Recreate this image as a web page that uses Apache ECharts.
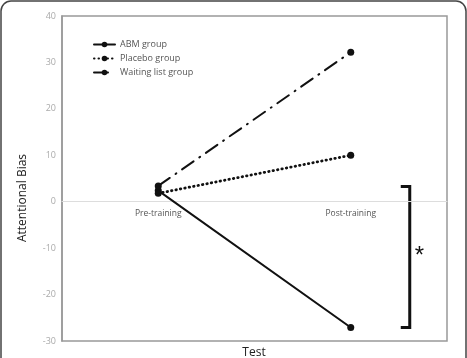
<!DOCTYPE html>
<html><head><meta charset="utf-8">
<script src="https://cdn.jsdelivr.net/npm/echarts@6/dist/echarts.min.js"></script>
<style>html,body{margin:0;padding:0;background:#fff}#c{width:467px;height:358px}</style>
</head><body><div id="c"></div>
<script>
const categories = ['Pre-training', 'Post-training'];
const abmGroup = [2.4, -27.1];
const placeboGroup = [1.8, 10.0];
const waitingListGroup = [3.4, 32.2];
const yTicks = [-30, -20, -10, 0, 10, 20, 30, 40];
const bracketRange = [3.3, -27.1];

const chart = echarts.init(document.getElementById('c'), null, {renderer: 'canvas'});
const font = 'Open Sans';
function mk(name, data, type, width) {
  return {
    name, type: 'line', data, symbol: 'circle', symbolSize: 7,
    itemStyle: {color: '#111'},
    lineStyle: {color: '#111', width, type, cap: 'round'},
    z: 3
  };
}
chart.setOption({
  animation: false,
  grid: {left: 62, right: 20, top: 16, bottom: 17, show: true, borderColor: '#999', borderWidth: 1.5},
  legend: {
    orient: 'vertical', left: 88, top: 35, itemWidth: 21, itemHeight: 7, itemGap: 5,
    textStyle: {fontFamily: font, fontSize: 9, color: '#555'},
    data: ['ABM group', 'Placebo group', 'Waiting list group']
  },
  xAxis: {
    type: 'category', data: categories, boundaryGap: true,
    axisLine: {onZero: true, lineStyle: {color: '#ddd', width: 1}},
    axisTick: {show: false},
    axisLabel: {show: false}
  },
  yAxis: {
    type: 'value', min: yTicks[0], max: yTicks[yTicks.length - 1], interval: 10,
    axisLine: {show: true, lineStyle: {color: '#999', width: 1.5}},
    axisTick: {show: false},
    splitLine: {show: false},
    axisLabel: {fontFamily: font, fontSize: 9, color: '#aaa', margin: 6}
  },
  series: [
    mk('ABM group', abmGroup, 'solid', 2),
    mk('Placebo group', placeboGroup, [0.5, 4], 2.8),
    mk('Waiting list group', waitingListGroup, [14, 7, 1, 7], 2)
  ]
});

const p0 = chart.convertToPixel({gridIndex: 0}, [1, bracketRange[0]]);
const p1 = chart.convertToPixel({gridIndex: 0}, [1, bracketRange[1]]);
const bx = p0[0] + 59;
const catLabels = categories.map((c, i) => {
  const p = chart.convertToPixel({gridIndex: 0}, [i, 0]);
  return {type: 'text', x: p[0], y: p[1] + 7, style: {text: c, font: '8.5px "Open Sans"', fill: '#555', align: 'center'}};
});
chart.setOption({
  graphic: [
    {type: 'rect', shape: {x: 1, y: 1, width: 465, height: 380, r: 10}, style: {fill: 'none', stroke: '#444', lineWidth: 1.5}, silent: true},
    {type: 'polyline', shape: {points: [[bx - 9, p0[1]], [bx, p0[1]], [bx, p1[1]], [bx - 9, p1[1]]]}, style: {fill: 'none', stroke: '#111', lineWidth: 3}},
    {type: 'text', x: bx + 5, y: (p0[1] + p1[1]) / 2 - 13, style: {text: '*', font: '24px "Liberation Sans"', fill: '#111'}},
    {type: 'text', x: 254, y: 347, style: {text: 'Test', font: '12px "Open Sans"', fill: '#222', align: 'center'}},
    {type: 'text', x: 23, y: 198, rotation: Math.PI / 2, style: {text: 'Attentional Bias', font: '12px "Open Sans"', fill: '#222', align: 'center', verticalAlign: 'middle'}}
  ].concat(catLabels)
});
</script></body></html>
